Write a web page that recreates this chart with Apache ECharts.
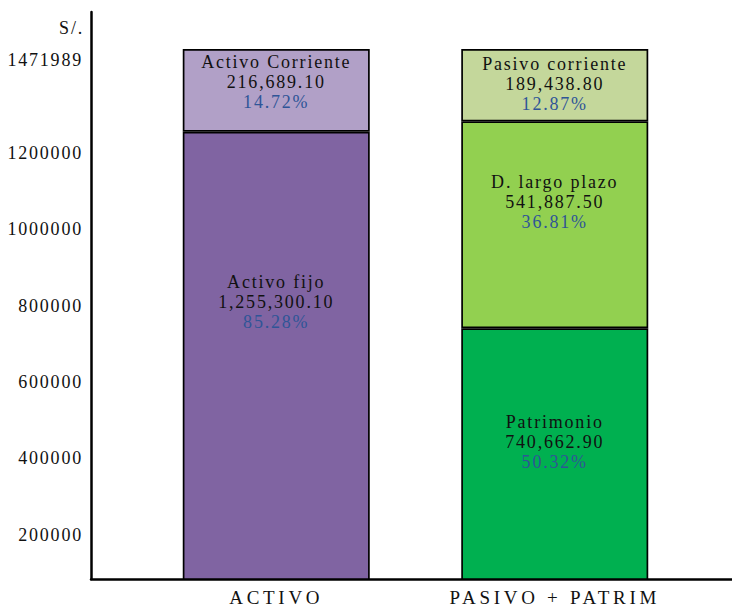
<!DOCTYPE html>
<html>
<head>
<meta charset="utf-8">
<script src="https://cdn.jsdelivr.net/npm/echarts@6/dist/echarts.min.js"></script>
<style>
  html, body { margin: 0; padding: 0; background: #ffffff; }
  #chart { width: 732px; height: 607px; }
</style>
</head>
<body>
<div id="chart"></div>
<script>
// Estructura del balance: activo frente a pasivo + patrimonio (S/.)
const categories = ['ACTIVO', 'PASIVO + PATRIM'];

const activoFijo      = [1255300.10, null];
const activoCorriente = [216689.10, null];
const patrimonio      = [null, 740662.90];
const deudaLargoPlazo = [null, 541887.50];
const pasivoCorriente = [null, 189438.80];

const yTicks = [200000, 400000, 600000, 800000, 1000000, 1200000, 1471989];

const FONT = '"Liberation Serif", "Times New Roman", serif';
const TEXT = '#111111';
const PCT = '#2F5597';

// stacking order: bottom segment first
const segments = [
  { name: 'Activo fijo',      data: activoFijo,      color: '#8064A2', dy: -54 },
  { name: 'Activo Corriente', data: activoCorriente, color: '#B1A0C7', dy: -8 },
  { name: 'Patrimonio',       data: patrimonio,      color: '#00B050', dy: -12 },
  { name: 'D. largo plazo',   data: deudaLargoPlazo, color: '#92D050', dy: -23 },
  { name: 'Pasivo corriente', data: pasivoCorriente, color: '#C4D79B', dy: -1 }
];

// column totals, used for the share of each segment
const totals = categories.map((c, i) =>
  segments.reduce((s, seg) => s + (seg.data[i] == null ? 0 : seg.data[i]), 0));

const money = v => v.toLocaleString('en-US', { minimumFractionDigits: 2, maximumFractionDigits: 2 });
const share = (v, i) => (v / totals[i] * 100).toFixed(2) + '%';

const yMin = 84000;
const yMax = 1569000;
const topTick = yTicks[yTicks.length - 1];

const chart = echarts.init(document.getElementById('chart'), null, { renderer: 'svg' });

chart.setOption({
  animation: false,
  backgroundColor: '#ffffff',
  grid: [
    { left: 137, right: 38, top: 12, bottom: 28 },
    { left: 91, right: 0, top: 12, bottom: 28 }
  ],
  xAxis: [
    {
      type: 'category', gridIndex: 0, data: categories,
      axisLine: { show: false }, axisTick: { show: false },
      axisLabel: { fontFamily: FONT, fontSize: 19, color: TEXT, margin: 9 }
    },
    {
      type: 'value', gridIndex: 1, min: 0, max: 1,
      axisLine: { show: true, onZero: false, lineStyle: { color: '#000', width: 2.5 } },
      axisTick: { show: false }, axisLabel: { show: false }, splitLine: { show: false }
    }
  ],
  yAxis: [
    { type: 'value', gridIndex: 0, min: yMin, max: yMax, show: false, splitLine: { show: false } },
    {
      type: 'value', gridIndex: 1, min: yMin, max: yMax,
      name: 'S/.', nameLocation: 'end', nameGap: -16,
      nameTextStyle: { fontFamily: FONT, fontSize: 18, color: TEXT, align: 'right', verticalAlign: 'middle', padding: [0, 7, 0, 0] },
      axisLine: { show: true, onZero: false, lineStyle: { color: '#000', width: 2.5 } },
      axisTick: { show: false },
      splitLine: { show: false },
      axisLabel: {
        customValues: yTicks,
        fontFamily: FONT, fontSize: 18, color: TEXT, margin: 8,
        formatter: v => (v === topTick ? '{top|' + v + '}' : String(v)),
        rich: { top: { fontFamily: FONT, fontSize: 18, color: TEXT, padding: [22, 0, 0, 0] } }
      }
    }
  ],
  series: segments.map(seg => ({
    type: 'bar',
    name: seg.name,
    stack: 'balance',
    xAxisIndex: 0,
    yAxisIndex: 0,
    barWidth: 187,
    data: seg.data,
    itemStyle: { color: seg.color, borderColor: '#000', borderWidth: 1.7 },
    label: {
      show: true,
      position: 'inside',
      offset: [0, seg.dy],
      fontFamily: FONT,
      fontSize: 18,
      lineHeight: 20,
      formatter: p => '{n|' + seg.name + '}\n{v|' + money(p.value) + '}\n{p|' + share(p.value, p.dataIndex) + '}',
      rich: {
        n: { fontFamily: FONT, fontSize: 18, lineHeight: 20, color: TEXT },
        v: { fontFamily: FONT, fontSize: 18, lineHeight: 20, color: TEXT },
        p: { fontFamily: FONT, fontSize: 18, lineHeight: 20, color: PCT }
      }
    }
  }))
});

// wide tracking of the serif lettering
function trackLetters() {
  document.querySelectorAll('#chart text').forEach(t => {
    t.style.letterSpacing = categories.includes(t.textContent) ? '3.7px' : '1.8px';
  });
}
chart.on('finished', trackLetters);
trackLetters();
setTimeout(trackLetters, 50);
</script>
</body>
</html>
